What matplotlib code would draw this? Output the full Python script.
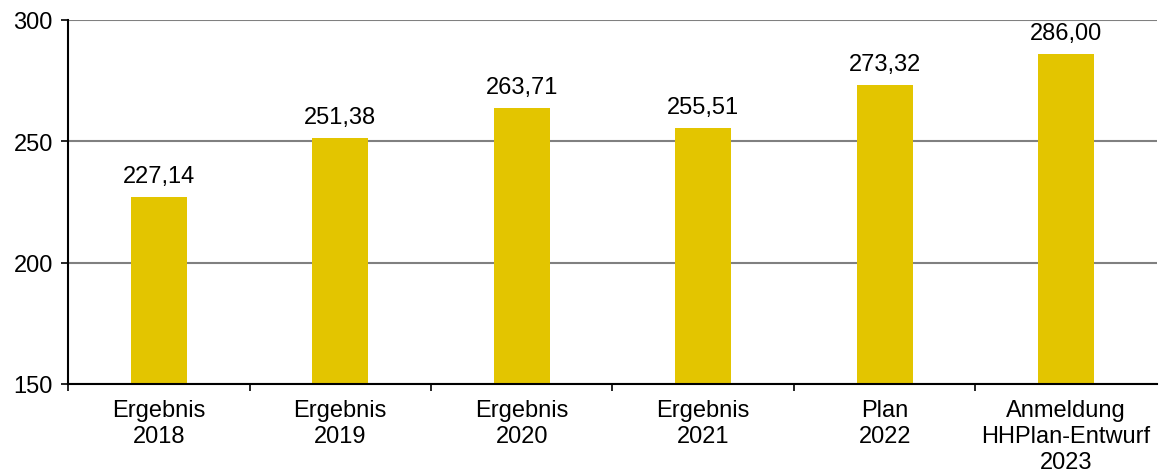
import matplotlib.pyplot as plt
import numpy as np

plt.rcParams['font.family'] = ['Liberation Sans', 'DejaVu Sans']

categories = ['Ergebnis\n2018', 'Ergebnis\n2019', 'Ergebnis\n2020', 'Ergebnis\n2021',
              'Plan\n2022', 'Anmeldung\nHHPlan-Entwurf\n2023']
values = [227.14, 251.38, 263.71, 255.51, 273.32, 286.00]
y_ticks = [150, 200, 250, 300]

fig = plt.figure(figsize=(11.59, 4.77), dpi=100)
ax = fig.add_axes([0.0587, 0.193, 0.9395, 0.763])

x = np.arange(len(categories))
ax.bar(x, values, width=0.31, color='#E3C500', zorder=3)

for xi, v in zip(x, values):
    ax.text(xi, v + 4, f'{v:.2f}'.replace('.', ','), ha='center', va='bottom', fontsize=17)

ax.set_xlim(-0.5, len(categories) - 0.5)
ax.set_ylim(150, 300)
ax.set_yticks(y_ticks)
ax.yaxis.grid(True, color='#808080', linewidth=1.5, zorder=0)
ax.tick_params(axis='y', labelsize=17, length=5, width=1.2, direction='out', pad=6)

# ticks on category borders, labels in the middle
ax.set_xticks(np.arange(len(categories)) - 0.5)
ax.set_xticklabels([])
ax.tick_params(axis='x', which='major', length=5, width=1.2, direction='out')
ax.set_xticks(x, minor=True)
ax.set_xticklabels(categories, minor=True, fontsize=17, linespacing=1.22)
ax.tick_params(axis='x', which='minor', length=0, pad=11)

for s in ['top', 'right']:
    ax.spines[s].set_visible(False)
for s in ['left', 'bottom']:
    ax.spines[s].set_linewidth(1.5)
    ax.spines[s].set_zorder(4)

fig.savefig('out.png', dpi=100)
